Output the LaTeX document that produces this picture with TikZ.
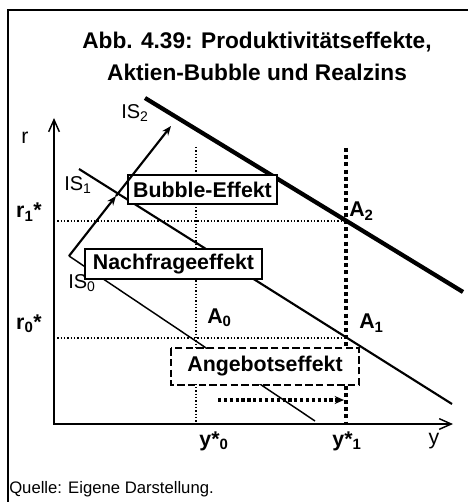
\documentclass[tikz,border=0pt]{standalone}
\usepackage{fontspec}
\setmainfont{Liberation Sans}
\usetikzlibrary{arrows.meta}
\begin{document}
\begin{tikzpicture}[x=0.75pt,y=-0.75pt,
  title/.style={font=\fontsize{17}{20}\selectfont\bfseries, inner sep=0pt},
  lbl/.style={font=\fontsize{16}{18}\selectfont\bfseries, inner sep=0pt},
  islbl/.style={font=\fontsize{15}{17}\selectfont, inner sep=0pt},
  effbox/.style={draw, line width=1.2pt, fill=white, font=\fontsize{16}{18}\selectfont\bfseries, inner sep=0pt},
  thindot/.style={line width=1pt, dash pattern=on 1.1pt off 1.4pt},
  thickdot/.style={line width=3pt, dash pattern=on 3pt off 2.4pt},
  axis/.style={line width=1.1pt},
  effarrow/.style={line width=1.6pt, -{Stealth[length=7pt,width=5.5pt]}}
]
\useasboundingbox (0,0) rectangle (468,502);
% frame
\draw[line width=1.1pt] (8,502) -- (8,10) -- (468,10);
% title
\node[title] (t1) at (257,42) {Abb. 4.39: Produktivitätseffekte,};
\node[title] (t2) at (257,72) {Aktien-Bubble und Realzins};
% axes
\coordinate (rtop) at (54,118);
\coordinate (o) at (54,424);
\coordinate (yend) at (453,424);
\draw[axis, {Straight Barb[length=9pt,width=8pt]}-{Straight Barb[length=9pt,width=8pt]}] (rtop) -- (o) -- (yend);
% coordinates
\coordinate (A0) at (196,338);
\coordinate (A1) at (346,338);
\coordinate (A2) at (346,221);
\coordinate (r1) at (54,221);
\coordinate (r0) at (54,338);
\coordinate (y0top) at (196,147);
\coordinate (y0bot) at (196,424);
\coordinate (y1top) at (346,148);
\coordinate (y1bot) at (346,424);
% dotted guides
\draw[thindot] (r1) -- (A2);
\draw[thindot] (r0) -- (A1);
\draw[thindot] (y0top) -- (y0bot);
\draw[thickdot] (y1top) -- (y1bot);
% IS curves
\coordinate (is0a) at (69,256);
\coordinate (is0b) at (315,421);
\coordinate (is1a) at (79,169);
\coordinate (is1b) at (452,404);
\coordinate (is2a) at (145,98);
\coordinate (is2b) at (463,292);
\draw[line width=1.1pt] (is0a) -- (is0b);
\draw[line width=1.6pt] (is1a) -- (is1b);
\draw[line width=3.2pt] (is2a) -- (is2b);
% boxes
\node[effbox, minimum width=149*0.75pt, minimum height=29*0.75pt] (bub) at (202.5,189.5) {Bubble-Effekt};
\node[effbox, minimum width=177*0.75pt, minimum height=30*0.75pt] (nach) at (173.5,264) {Nachfrageeffekt};
\node[effbox, draw=none, minimum width=186*0.75pt, minimum height=35*0.75pt] (ang) at (265,366.5) {Angebotseffekt};
\draw[line width=1.2pt, dash pattern=on 5.5pt off 2.5pt] (ang.north west) rectangle (ang.south east);
% effect arrows
\coordinate (m) at (116,196);
\coordinate (top) at (171,126);
\draw[effarrow] (is0a) -- (m);
\draw[effarrow] (m) -- (top);
\coordinate (da) at (218,400);
\coordinate (db) at (344,400);
\draw[line width=2.4pt, dash pattern=on 2.4pt off 2pt, -{Stealth[length=7pt,width=6pt]}] (da) -- (db);
% labels
\node[islbl] (lis0) at (82,283) {IS\textsubscript{0}};
\node[islbl] (lis1) at (78,185) {IS\textsubscript{1}};
\node[islbl] (lis2) at (135,113) {IS\textsubscript{2}};
\node[lbl, anchor=west] (la0) at (207,318) {A\textsubscript{0}};
\node[lbl, anchor=west] (la1) at (359,323) {A\textsubscript{1}};
\node[lbl, anchor=west] (la2) at (349,211) {A\textsubscript{2}};
\node[font=\fontsize{16}{18}\selectfont, inner sep=0pt] (lr) at (25,138) {r};
\node[lbl] (lr1) at (29,212) {r\textsubscript{1}*};
\node[lbl] (lr0) at (29,324) {r\textsubscript{0}*};
\node[lbl] (ly0) at (214,441) {y*\textsubscript{0}};
\node[lbl] (ly1) at (347,441) {y*\textsubscript{1}};
\node[font=\fontsize{16}{18}\selectfont, inner sep=0pt] (ly) at (434,441) {y};
\node[font=\fontsize{12.5}{15}\selectfont, inner sep=0pt, anchor=west] (src) at (9,489) {Quelle: Eigene Darstellung.};
\end{tikzpicture}
\end{document}
